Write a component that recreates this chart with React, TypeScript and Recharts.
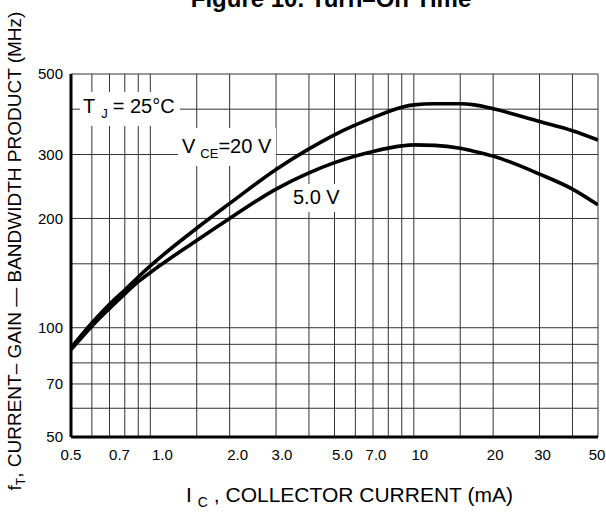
import { LineChart, Line, XAxis, YAxis, CartesianGrid } from 'recharts'

// collector current (mA) and fT (MHz)
const current = [0.5, 0.6, 0.7, 0.8, 0.9, 1.0, 1.5, 2, 3, 4, 5, 7, 9, 10, 12, 15, 17, 20, 30, 40, 50]
const ft20V = [88, 103, 116, 127, 138, 148, 188, 220, 273, 311, 340, 379, 405, 411, 414, 414, 411, 401, 370, 349, 329]
const ft5V = [87, 101, 113, 124, 134, 142, 174, 200, 241, 267, 285, 306, 317, 319, 318, 312, 306, 297, 265, 241, 218]

const xGrid = [0.5, 0.6, 0.7, 0.8, 0.9, 1, 1.5, 2, 3, 4, 5, 6, 7, 8, 9, 10, 15, 20, 30, 40, 50]
const yGrid = [50, 60, 70, 80, 90, 100, 150, 200, 300, 400, 500]
const xLabelAt = [0.5, 0.7, 1, 2, 3, 5, 7, 10, 20, 30, 50]
const xLabelText = ['0.5', '0.7', '1.0', '2.0', '3.0', '5.0', '7.0', '10', '20', '30', '50']
const yLabelAt = [50, 70, 100, 200, 300, 500]
const yLabelText = ['50', '70', '100', '200', '300', '500']

const rows = current.map((ic, i) => ({ ic, v20: ft20V[i], v5: ft5V[i] }))

const font = '"Liberation Sans", Arial, sans-serif'
// the original labels sit a little right of their grid lines
const xNudge = [0, 10, 12, 8, 6, 8, 3, 6, 2, 3, -1]

const XTick = ({ x, y, payload }: any) => {
  const i = xLabelAt.indexOf(payload.value)
  if (i < 0) return <g />
  return (
    <text x={x + xNudge[i]} y={y} dy="0.71em" textAnchor="middle" fontSize={15} fontFamily={font} fill="#000">
      {xLabelText[i]}
    </text>
  )
}

const yFmt = (v: number) => {
  const i = yLabelAt.indexOf(v)
  return i < 0 ? '' : yLabelText[i]
}

export default function App() {
  return (
    <div style={{ position: 'absolute', left: 0, top: 0, width: 606, height: 515, background: '#fff' }}>
      <LineChart width={606} height={515} data={rows} margin={{ top: 74, right: 8, bottom: 38, left: 0 }}>
        <CartesianGrid stroke="#333" strokeWidth={1} />
        <XAxis dataKey="ic" type="number" scale="log" domain={[0.5, 50]} ticks={xGrid} interval={0} allowDataOverflow
          tick={<XTick />} tickLine={false} tickMargin={6} height={40} axisLine={{ stroke: '#000', strokeWidth: 3 }} />
        <YAxis type="number" scale="log" domain={[50, 500]} ticks={yGrid} interval={0} allowDataOverflow width={71}
          tick={{ fontSize: 15, fill: '#000', fontFamily: font }} tickFormatter={yFmt} tickLine={false}
          axisLine={{ stroke: '#000', strokeWidth: 3 }} />
        <Line type="monotone" dataKey="v20" stroke="#000" strokeWidth={3.6} dot={false} isAnimationActive={false} />
        <Line type="monotone" dataKey="v5" stroke="#000" strokeWidth={3.6} dot={false} isAnimationActive={false} />
      </LineChart>
      <svg width={606} height={515} style={{ position: 'absolute', left: 0, top: 0, pointerEvents: 'none' }} fontFamily={font}>
        <text x={331} y={7} textAnchor="middle" fontSize={24} fontWeight="bold">Figure 10. Turn–On Time</text>
        <text x={21} y={251} textAnchor="middle" fontSize={19} transform="rotate(-90 21 251)">
          f<tspan fontSize={12} dy={4}>T</tspan><tspan dy={-4}>, CURRENT– GAIN — BANDWIDTH PRODUCT (MHz)</tspan>
        </text>
        <text x={186} y={502} fontSize={21}>
          I<tspan fontSize={14} dx={6} dy={5}>C</tspan><tspan dy={-5}> , COLLECTOR CURRENT (mA)</tspan>
        </text>
        <rect x={80} y={92} width={100} height={34} fill="#fff" />
        <text x={83} y={113} fontSize={20}>
          T<tspan fontSize={13} dx={6} dy={5}>J</tspan><tspan dx={5} dy={-5}>= 25°C</tspan>
        </text>
        <rect x={178} y={128} width={98} height={38} fill="#fff" />
        <text x={182} y={153} fontSize={20}>
          V<tspan fontSize={13} dx={5} dy={5}>CE</tspan><tspan dy={-5}>=20 V</tspan>
        </text>
        <rect x={289} y={184} width={57} height={28} fill="#fff" />
        <text x={293} y={204} fontSize={20}>5.0 V</text>
      </svg>
    </div>
  )
}
